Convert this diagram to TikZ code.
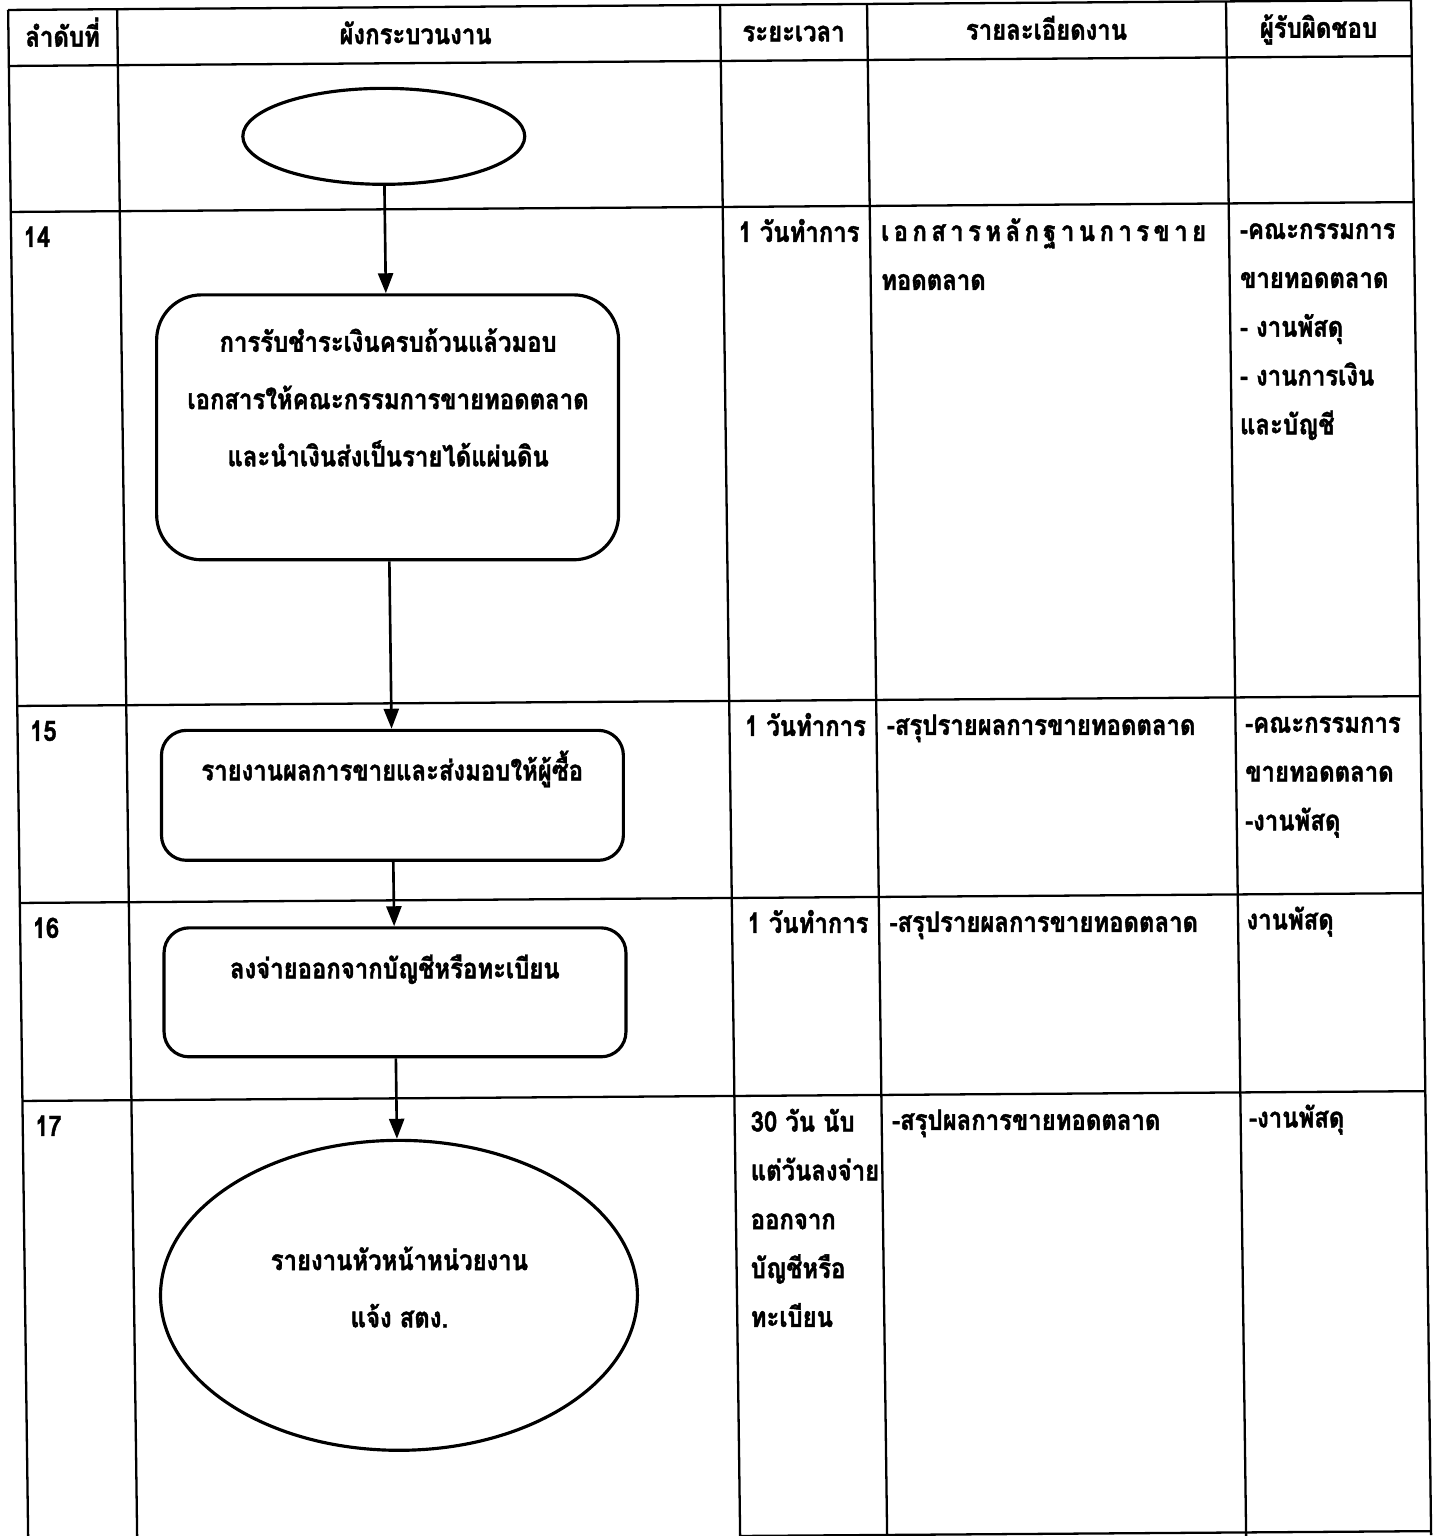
\documentclass[tikz,border=0pt]{standalone}
\usepackage{fontspec}
\setmainfont[Script=Thai, FakeStretch=0.85, BoldFeatures={FakeBold=1.5}]{Loma}
\usetikzlibrary{shapes,arrows,arrows.meta,positioning,calc,shapes.geometric}

\begin{document}
\begin{tikzpicture}[x=0.02cm, y=-0.02cm,
    every node/.style={font=\bfseries\fontsize{16}{27.8}\selectfont, inner sep=0pt},
    rule/.style={line width=1.3pt},
    procbox/.style={draw, rectangle, line width=1.8pt, minimum width=9.24cm},
    termnode/.style={draw, ellipse, line width=1.8pt},
    boxtext/.style={anchor=base, align=center, font=\bfseries\fontsize{16}{32.6}\selectfont},
    cell/.style={anchor=base west, align=left},
    head/.style={anchor=base},
    flow/.style={line width=1.5pt, -{Triangle[length=0.4cm, width=0.3cm]}}]

    \useasboundingbox (0,0) rectangle (1440,1536);

    \begin{scope}[xslant=-0.0131, yslant=0.007]
    % Table grid
    \draw[rule] (8,10) -- (1411,10);
    \foreach \y in {66,212,706,903,1101} \draw[rule] (8,\y) -- (1411,\y);
    \draw[rule] (720,1541) -- (1411,1541);
    \foreach \x in {8,117,720,867,1226,1411} \draw[rule] (\x,10) -- (\x,1545);

    % Header
    \node[head] (hnum) at (62,47) {ลำดับที่};
    \node[head] (hflow) at (415,47) {ผังกระบวนงาน};
    \node[head] (htime) at (793,47) {ระยะเวลา};
    \node[head] (hdetail) at (1046,47) {รายละเอียดงาน};
    \node[head] (hresp) at (1318,47) {ผู้รับผิดชอบ};

    % Flow chart
    \node[termnode, minimum width=5.64cm, minimum height=1.92cm] (start) at (382,139) {};
    \node[procbox, rounded corners=0.9cm, minimum height=5.3cm] (pay) at (382,430) {};
    \node[procbox, rounded corners=0.5cm, minimum height=2.6cm] (report) at (382,798) {};
    \node[procbox, rounded corners=0.5cm, minimum height=2.58cm] (writeoff) at (382,995) {};
    \node[termnode, minimum width=9.54cm, minimum height=6.2cm] (finish) at (382,1298) {};

    % base anchor of a multi-line node sits on its last line
    \node[boxtext] (paytext) at (382,469) {การรับชำระเงินครบถ้วนแล้วมอบ\\เอกสารให้คณะกรรมการขายทอดตลาด\\และนำเงินส่งเป็นรายได้แผ่นดิน};
    \node[boxtext] (reporttext) at (382,783) {รายงานผลการขายและส่งมอบให้ผู้ซื้อ};
    \node[boxtext] (writeofftext) at (382,981) {ลงจ่ายออกจากบัญชีหรือทะเบียน};
    \node[boxtext] (finishtext) at (382,1330) {รายงานหัวหน้าหน่วยงาน\\แจ้ง สตง.};

    \draw[flow] (start) -- (pay);
    \draw[flow] (pay) -- (report);
    \draw[flow] (report) -- (writeoff);
    \draw[flow] (writeoff) -- (finish);

    % Row 14
    \node[cell] (num14) at (20,247) {14};
    \node[cell] (time14) at (735,247) {1 วันทำการ};
    \node[cell] (detail14) at (877,296) {\makebox[6.5cm][s]{เ\hfill อ\hfill ก\hfill ส\hfill า\hfill ร\hfill ห\hfill ลั\hfill ก\hfill ฐ\hfill า\hfill น\hfill ก\hfill า\hfill ร\hfill ข\hfill า\hfill ย}\\ทอดตลาด};
    \node[cell] (resp14) at (1234,443) {-คณะกรรมการ\\ขายทอดตลาด\\- งานพัสดุ\\- งานการเงิน\\และบัญชี};

    % Row 15
    \node[cell] (num15) at (20,741) {15};
    \node[cell] (time15) at (735,741) {1 วันทำการ};
    \node[cell] (detail15) at (877,741) {-สรุปรายผลการขายทอดตลาด};
    \node[cell] (resp15) at (1234,839) {-คณะกรรมการ\\ขายทอดตลาด\\-งานพัสดุ};

    % Row 16
    \node[cell] (num16) at (20,938) {16};
    \node[cell] (time16) at (735,938) {1 วันทำการ};
    \node[cell] (detail16) at (877,938) {-สรุปรายผลการขายทอดตลาด};
    \node[cell] (resp16) at (1234,938) {งานพัสดุ};

    % Row 17
    \node[cell] (num17) at (20,1136) {17};
    \node[cell] (time17) at (733,1332) {30 วัน นับ\\แต่วันลงจ่าย\\ออกจาก\\บัญชีหรือ\\ทะเบียน};
    \node[cell] (detail17) at (877,1136) {-สรุปผลการขายทอดตลาด};
    \node[cell] (resp17) at (1234,1136) {-งานพัสดุ};
    \end{scope}
\end{tikzpicture}
\end{document}
